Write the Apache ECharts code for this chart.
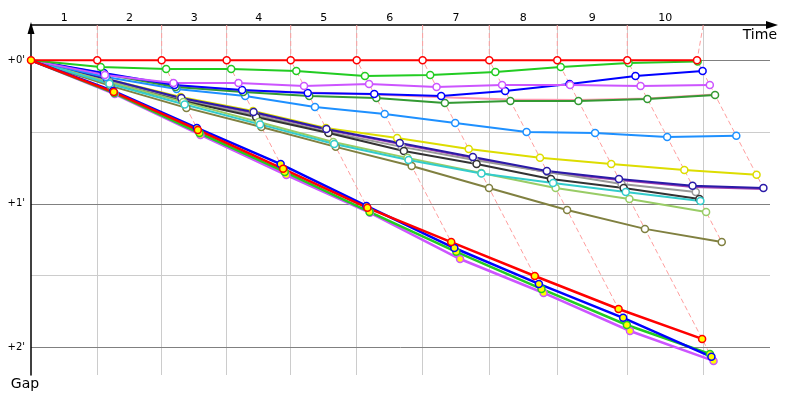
<!DOCTYPE html>
<html><head><meta charset="utf-8">
<script src="https://cdn.jsdelivr.net/npm/echarts@6/dist/echarts.min.js"></script>
<style>html,body{margin:0;padding:0;background:#fff}#c{width:800px;height:400px}</style>
</head><body><div id="c"></div>
<script>
// ---- data (seconds) ----
const lapLabels = ['1','2','3','4','5','6','7','8','9','10'];
const leaderTimes = [0, 53.3, 105.1, 157.4, 208.9, 262.0, 315.0, 368.6, 423.3, 479.6, 535.7];
const lapLineTimes = [53.3, 105.1, 157.4, 208.9, 262.0, 315.0, 368.6, 423.3, 479.6, 540.7];
const gapTickValues = [0, 60, 120];
const gapTickLabels = ["+0'", "+1'", "+2'"];
const gapMajorLines = [0, 60, 120];
const gapMinorLines = [30, 90];

// gap behind reference at start (index 0) and after each lap
const gRed      = [0, 0, 0, 0, 0, 0, 0, 0, 0, 0, 0];
const gGreen    = [0, 2.8, 3.6, 3.6, 4.5, 6.6, 6.1, 4.9, 2.8, 1.1, 0.5];
const gViolet   = [0, 6.1, 9.5, 9.5, 10.7, 9.9, 11.2, 10.3, 10.3, 10.7, 10.3];
const gBlue     = [0, 5.3, 10.3, 12.4, 13.7, 14.1, 14.9, 12.8, 9.9, 6.6, 4.5];
const gPink     = [0, 5.5, 10.5, 12.6, 13.5, 14.3, 15.5, 16.4, 16.6, 16.0, 14.3];
const gDarkGreen= [0, 5.7, 11.2, 13.3, 14.9, 15.8, 17.9, 17.0, 17.0, 16.2, 14.5];
const gSky      = [0, 7.0, 12.0, 14.9, 19.5, 22.5, 26.2, 30.0, 30.4, 32.1, 31.6];
const gYellow   = [0, 7.8, 15.3, 21.2, 28.3, 32.5, 37.1, 40.8, 43.4, 45.9, 47.9];
const gNavy     = [0, 7.8, 15.8, 21.6, 28.7, 34.6, 40.4, 46.3, 49.6, 52.5, 53.4];
const gPlum     = [0, 8.0, 16.1, 22.0, 29.1, 35.0, 40.9, 46.8, 50.1, 53.0, 53.8];
const gGray     = [0, 8.7, 16.6, 22.9, 30.0, 36.2, 41.7, 46.7, 51.7, 55.1];
const gBlack    = [0, 9.5, 17.0, 23.7, 30.4, 37.9, 43.4, 49.6, 53.4, 58.0];
const gCyan     = [0, 9.8, 18.5, 26.8, 35.0, 41.7, 47.3, 51.3, 55.1, 58.8];
const gLime     = [0, 9.1, 17.4, 25.8, 34.2, 40.8, 47.1, 53.4, 58.0, 63.4];
const gOlive    = [0, 10.7, 19.9, 27.9, 36.2, 44.2, 53.4, 62.6, 70.5, 76.0];
const gRed2     = [0, 13.3, 29.1, 45.4, 61.7, 76.0, 90.2, 104.0, 116.5];
const gBlue2    = [0, 12.8, 28.3, 43.4, 60.9, 78.5, 93.5, 107.7, 124.0];
const gGreen2   = [0, 13.7, 30.4, 46.7, 63.4, 80.1, 95.6, 110.7, 122.8];
const gViolet2  = [0, 14.1, 31.2, 48.0, 63.8, 83.1, 97.3, 113.2, 125.7];

const X_MIN = 0, X_MAX = 594.4, Y_MIN = -14.76, Y_MAX = 131.6;
const FONT = 'DejaVu Sans';

// [gaps, color, marker kind]
const drivers = [
  [gPink, '#ff99b0', 'n'],
  [gPlum, '#a040b0', 'n'],
  [gYellow, '#dddd00', 'w'],
  [gGray, '#999999', 'w'],
  [gBlack, '#333333', 'w'],
  [gNavy, '#2a1aa8', 'w'],
  [gOlive, '#808040', 'w'],
  [gLime, '#99cc66', 'w'],
  [gCyan, '#33cccc', 'w'],
  [gSky, '#1e90ff', 'w'],
  [gDarkGreen, '#339933', 'w'],
  [gBlue, '#0000ff', 'w'],
  [gViolet, '#cc55ff', 'w'],
  [gGreen, '#22cc22', 'w'],
  [gRed, '#ff0000', 'w'],
  [gViolet2, '#cc55ff', 'y'],
  [gGreen2, '#22cc22', 'y'],
  [gBlue2, '#0000ff', 'y'],
  [gRed2, '#ff0000', 'y']
];

const series = [];

// grid lines
const mlData = [];
lapLineTimes.forEach(t => mlData.push([{coord:[t, Y_MIN], lineStyle:{color:'#cccccc', width:1, type:'solid'}}, {coord:[t, Y_MAX]}]));
gapMinorLines.forEach(v => mlData.push([{coord:[X_MIN, v], lineStyle:{color:'#cccccc', width:1, type:'solid'}}, {coord:[X_MAX, v]}]));
gapMajorLines.forEach(v => mlData.push([{coord:[X_MIN, v], lineStyle:{color:'#808080', width:1, type:'solid'}}, {coord:[X_MAX, v]}]));
series.push({
  type:'line', data:[[0,0]], symbol:'none', lineStyle:{opacity:0}, z:0, silent:true,
  markLine:{z:0, symbol:['none','none'], silent:true, label:{show:false}, animation:false, data:mlData}
});

// lap dashed lines
for (let i = 1; i <= lapLabels.length; i++) {
  const pts = drivers.filter(d => d[0].length > i).map(d => [leaderTimes[i] + d[0][i], d[0][i]]);
  pts.sort((a, b) => a[1] - b[1]);
  pts.unshift([lapLineTimes[i - 1], Y_MIN]);
  series.push({type:'line', data:pts, symbol:'none', silent:true, z:1, clip:false,
    lineStyle:{color:'#ff9f9f', width:1, type:[5,3]}});
}

drivers.forEach((d, n) => {
  const [gaps, color, kind] = d;
  const isLast = n === drivers.length - 1;
  series.push({
    type:'line', z:2, silent:true,
    data: gaps.map((g, i) => (i === 0 && !isLast) ? {value:[leaderTimes[i] + g, g], symbol:'none'} : [leaderTimes[i] + g, g]),
    symbol: kind === 'n' ? 'none' : 'circle',
    symbolSize: 7,
    showAllSymbol: true,
    itemStyle:{color: kind === 'y' ? '#ffff00' : '#ffffff', borderColor: color, borderWidth: 1.5},
    lineStyle:{color: color, width: kind === 'y' ? 2.5 : 2}
  });
});

const lapMid = lapLineTimes.map((t, i) => ((i === 0 ? 0 : lapLineTimes[i - 1]) + t) / 2);

const chart = echarts.init(document.getElementById('c'));
chart.setOption({
  animation:false,
  backgroundColor:'#fff',
  grid:{left:31, top:25, right:30, bottom:25},
  xAxis:{
    type:'value', position:'top', min:X_MIN, max:X_MAX,
    axisLine:{show:true, onZero:false, lineStyle:{color:'#000', width:1.5}, symbol:['none','triangle'], symbolSize:[8,12], symbolOffset:[0,2]},
    axisTick:{show:false}, splitLine:{show:false},
    axisLabel:{customValues: lapMid, margin:1, fontFamily:FONT, fontSize:11, color:'#000',
      formatter: v => { const k = lapMid.findIndex(m => Math.abs(m - v) < 0.01); return k >= 0 ? lapLabels[k] : ''; }},
    name:'Time', nameLocation:'end', nameGap:7,
    nameTextStyle:{fontFamily:FONT, fontSize:14, color:'#000', align:'right', verticalAlign:'top', padding:[3,0,0,0]}
  },
  yAxis:{
    type:'value', inverse:true, min:Y_MIN, max:Y_MAX,
    axisLine:{show:true, onZero:false, lineStyle:{color:'#000', width:1.5}, symbol:['none','triangle'], symbolSize:[7,12], symbolOffset:[0,-3]},
    axisTick:{show:false}, splitLine:{show:false},
    axisLabel:{customValues: gapTickValues, margin:6, fontFamily:FONT, fontSize:10, color:'#000',
      formatter: v => { const k = gapTickValues.indexOf(v); return k >= 0 ? gapTickLabels[k] : ''; }},
    name:'Gap', nameLocation:'end', nameGap:2,
    nameTextStyle:{fontFamily:FONT, fontSize:14, color:'#000', align:'center', verticalAlign:'top', padding:[0,12,0,0]}
  },
  series: series
});
</script></body></html>
